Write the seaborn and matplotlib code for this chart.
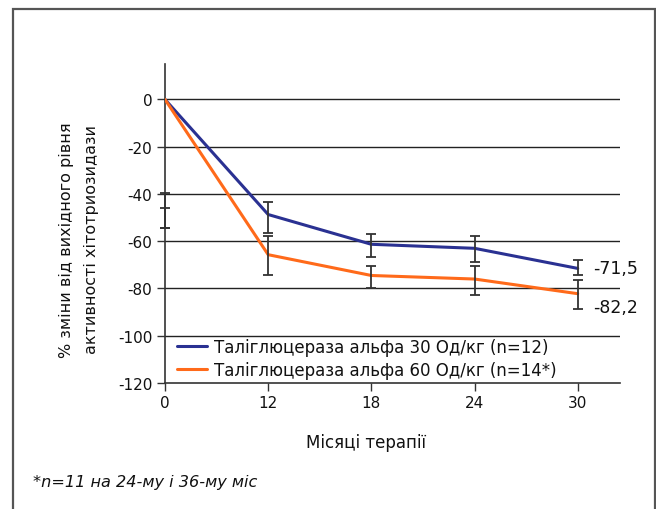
import matplotlib
matplotlib.use("Agg")
import matplotlib.pyplot as plt
import seaborn as sns
import pandas as pd
import numpy as np
from matplotlib.patches import Rectangle

months = ["0", "12", "18", "24", "30"]
series_30 = [0, -48.7, -61.3, -63.0, -71.5]
series_60 = [0, -65.7, -74.5, -76.0, -82.2]
err30_low = [-54.2, -56.4, -66.5, -69.0, -74.5]
err30_high = [-39.6, -43.6, -56.8, -57.9, -67.8]
err60_low = [-54.2, -74.2, -79.7, -82.6, -88.8]
err60_high = [-45.8, -57.6, -70.6, -70.6, -76.5]
name_30 = "Таліглюцераза альфа 30 Од/кг (n=12)"
name_60 = "Таліглюцераза альфа 60 Од/кг (n=14*)"
end_labels = ["-71,5", "-82,2"]
yticks = [0, -20, -40, -60, -80, -100, -120]

sns.set_theme(style="white")
plt.rcParams["font.family"] = ["DejaVu Sans"]
plt.rcParams["axes.unicode_minus"] = False
plt.rcParams["text.color"] = "#111111"

pos = np.arange(len(months))
df = pd.DataFrame({
    "pos": np.concatenate([pos, pos]),
    "val": series_30 + series_60,
    "grp": [name_30] * len(months) + [name_60] * len(months),
})

fig = plt.figure(figsize=(6.56, 5.10), dpi=100)
ax = fig.add_axes([165 / 656, 1 - 384 / 510, (620 - 165) / 656, (384 - 65) / 510])

blue = "#2a3192"
orange = "#ff6a1a"

for yv in yticks[:-1]:
    ax.axhline(yv, color="#222222", lw=1.0, zorder=1)

sns.lineplot(data=df, x="pos", y="val", hue="grp", palette=[blue, orange],
             lw=2.2, ax=ax, zorder=3, legend=True)

for lo, hi in [(err30_low, err30_high), (err60_low, err60_high)]:
    lo = np.array(lo); hi = np.array(hi)
    mid = (lo + hi) / 2
    ax.errorbar(pos, mid, yerr=(hi - lo) / 2, fmt="none", ecolor="#333333",
                elinewidth=1.3, capsize=3.5, capthick=1.3, zorder=4, clip_on=False)

ax.set_xlim(0, 4.41)
ax.set_ylim(-120, 15)
ax.set_xticks(pos)
ax.set_xticklabels(months)
ax.set_yticks(yticks)
ax.tick_params(axis="both", labelsize=11, length=6, width=1, color="#333333",
               direction="out", labelcolor="#111111", pad=3)
ax.tick_params(axis="x", bottom=True)
ax.tick_params(axis="y", left=True)
for s in ["top", "right"]:
    ax.spines[s].set_visible(False)
for s in ["left", "bottom"]:
    ax.spines[s].set_color("#333333")
    ax.spines[s].set_linewidth(1.2)
ax.set_xlabel("")
ax.set_ylabel("")

ax.annotate(end_labels[0], xy=(pos[-1], series_30[-1]), xytext=(11, 0),
            textcoords="offset points", va="center", ha="left", fontsize=12.5)
ax.annotate(end_labels[1], xy=(pos[-1], series_60[-1]), xytext=(11, -9.5),
            textcoords="offset points", va="center", ha="left", fontsize=12.5)

leg = ax.legend(loc="upper left", bbox_to_anchor=(0.0, 0.179), frameon=False,
                fontsize=12, handlelength=1.8, borderaxespad=0.3, labelspacing=0.3,
                handletextpad=0.45)
for line in leg.get_lines():
    line.set_linewidth(2.2)

fig.text(79 / 656, 1 - 240 / 510, "% зміни від вихідного рівня\nактивності хітотриозидази",
         rotation=90, ha="center", va="center", fontsize=11.5, linespacing=1.85)
fig.text(366 / 656, 1 - 443 / 510, "Місяці терапії", ha="center", va="center", fontsize=12)
fig.text(33 / 656, 1 - 482 / 510, "*n=11 на 24-му і 36-му міс", ha="left", va="center",
         fontsize=11.6, style="italic")

fig.patches.append(Rectangle((13 / 656, -0.05), (655 - 13) / 656, 1 - 10 / 510 + 0.05,
                             transform=fig.transFigure, fill=False, ec="#555555", lw=1.6))

fig.savefig("out.png", dpi=100)
